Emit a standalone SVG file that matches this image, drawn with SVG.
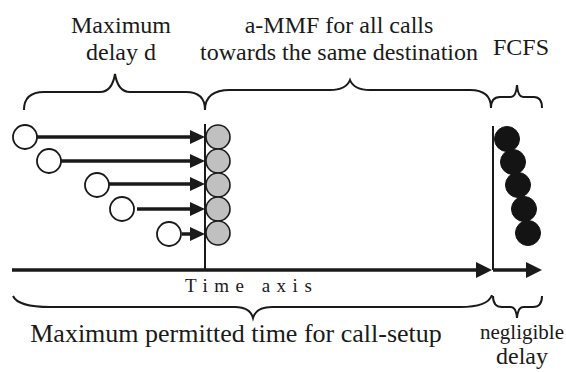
<svg xmlns="http://www.w3.org/2000/svg" width="566" height="372" viewBox="0 0 566 372">
<defs>
<style>
text{font-family:'Liberation Serif','DejaVu Serif','Times New Roman',serif;fill:#1a1a1a;}
.lbl{font-size:24px;text-anchor:middle;}
.big{font-size:26px;text-anchor:middle;}
.axis{font-size:19px;letter-spacing:6.5px;}
.brace{fill:none;stroke:#1a1a1a;stroke-width:2;}
.conn{stroke:#1a1a1a;stroke-width:3.5;fill:none;}
.ah{fill:#1a1a1a;}
.vline{stroke:#1a1a1a;stroke-width:2;}
.open{fill:#fff;stroke:#1a1a1a;stroke-width:1.8;}
.gray{fill:#c0c0c0;stroke:#1a1a1a;stroke-width:1.6;}
.black{fill:#141414;stroke:#141414;stroke-width:1;}
</style>
</defs>
<rect width="566" height="372" fill="#fff"/>
<g id="labels">
<text class="lbl" x="121" y="33">Maximum</text>
<text class="lbl" x="121" y="60">delay  d</text>
<text class="lbl" x="339" y="33">a-MMF for all calls</text>
<text class="lbl" x="339" y="60">towards the same destination</text>
<text class="lbl" x="521" y="55">FCFS</text>
<text class="axis" x="185" y="292">Time axis</text>
<text class="big" x="236" y="342">Maximum permitted time for call-setup</text>
<text x="564" y="339" font-size="21" text-anchor="end">negligible</text>
<text class="lbl" x="522" y="364">delay</text>
</g>
<g id="braces">
<path class="brace" d="M24 110 Q24 92 44 92 L100 92 Q112 92 115 74 Q118 92 130 92 L186 92 Q205 92 205 110"/>
<path class="brace" d="M205 110 Q205 90 230 90 L330 90 Q346 90 350 80 Q354 90 370 90 L470 90 Q491 90 491 108"/>
<path class="brace" d="M491 108 Q491 97 500 97 L511 97 Q516 97 517 85 Q518 97 523 97 L534 97 Q542 97 542 108"/>
<path class="brace" d="M13 296 Q18 307 50 307 L235 307 Q250 307 253 318 Q256 307 272 307 L460 307 Q488 307 492 295"/>
<path class="brace" d="M493 296 Q493 307 502 307 L511 307 Q516 307 517 318 Q518 307 523 307 L533 307 Q542 307 542 296"/>
</g>
<g id="axis">
<line class="vline" x1="205" y1="124" x2="205" y2="270"/>
<line class="vline" x1="493" y1="126" x2="493" y2="270"/>
<line class="conn" x1="12" y1="270" x2="480" y2="270" stroke-width="4"/>
<polygon class="ah" points="492,270 476,262 476,278"/>
<line class="conn" x1="493" y1="270" x2="530" y2="270"/>
<polygon class="ah" points="542,270 526,262 526,278"/>
</g>
<g id="connectors">
<line class="conn" x1="37" y1="137" x2="192" y2="137"/>
<polygon class="ah" points="205,137 190,130 190,144"/>
<line class="conn" x1="61" y1="161" x2="192" y2="161"/>
<polygon class="ah" points="205,161 190,154 190,168"/>
<line class="conn" x1="108" y1="184" x2="192" y2="184"/>
<polygon class="ah" points="205,184 190,177 190,191"/>
<line class="conn" x1="137" y1="209" x2="192" y2="209"/>
<polygon class="ah" points="205,209 190,202 190,216"/>
<line class="conn" x1="182" y1="234" x2="192" y2="234"/>
<polygon class="ah" points="205,234 190,227 190,241"/>
</g>
<g id="call1"><circle class="open" cx="25" cy="137" r="12"/></g>
<g id="call2"><circle class="open" cx="49" cy="161" r="12"/></g>
<g id="call3"><circle class="open" cx="97" cy="185" r="12"/></g>
<g id="call4"><circle class="open" cx="122" cy="209" r="12"/></g>
<g id="call5"><circle class="open" cx="169" cy="234" r="12"/></g>
<g id="mmf">
<circle class="gray" cx="218" cy="137" r="12"/>
<circle class="gray" cx="218" cy="161" r="12"/>
<circle class="gray" cx="218" cy="185" r="12"/>
<circle class="gray" cx="218" cy="209" r="12"/>
<circle class="gray" cx="218" cy="233" r="12"/>
</g>
<g id="fcfs">
<circle class="black" cx="507" cy="139" r="12.5"/>
<circle class="black" cx="513" cy="162" r="12.5"/>
<circle class="black" cx="518" cy="185" r="12.5"/>
<circle class="black" cx="524" cy="209" r="12.5"/>
<circle class="black" cx="528" cy="233" r="12.5"/>
</g>
</svg>
